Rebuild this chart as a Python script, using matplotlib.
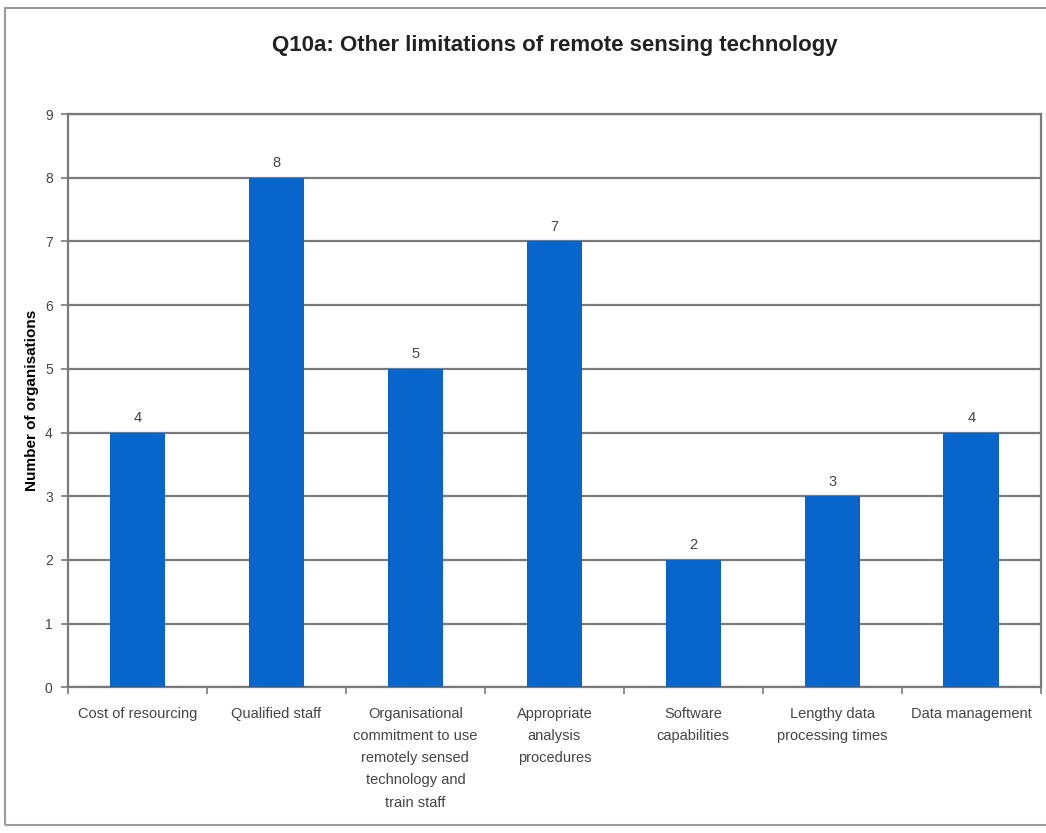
import matplotlib
matplotlib.use('Agg')
import matplotlib.pyplot as plt
from matplotlib.patches import Rectangle

categories = [
    'Cost of resourcing',
    'Qualified staff',
    'Organisational\ncommitment to use\nremotely sensed\ntechnology and\ntrain staff',
    'Appropriate\nanalysis\nprocedures',
    'Software\ncapabilities',
    'Lengthy data\nprocessing times',
    'Data management',
]
counts = [4, 8, 5, 7, 2, 3, 4]
yticks = list(range(0, 10))

plt.rcParams['font.family'] = ['Liberation Sans', 'DejaVu Sans']

fig = plt.figure(figsize=(10.46, 8.33), dpi=100)
ax = fig.add_axes([0.065, 0.175, 0.93, 0.688])

x = list(range(len(categories)))
bars = ax.bar(x, counts, width=0.4, color='#0865CC', zorder=3)
for xi, v in zip(x, counts):
    ax.text(xi, v + 0.12, str(v), ha='center', va='bottom', fontsize=10.5, color='#444444')

ax.set_xlim(-0.5, len(categories) - 0.5)
ax.set_ylim(0, 9)
ax.set_yticks(yticks)
ax.set_yticklabels([str(t) for t in yticks], fontsize=10, color='#444444')
ax.yaxis.grid(True, color='#7a7a7a', linewidth=1.6, zorder=0)
ax.set_axisbelow(True)

# category ticks sit on the boundaries, labels at the centres
ax.set_xticks([i - 0.5 for i in range(len(categories) + 1)])
ax.set_xticklabels([])
ax.set_xticks(x, minor=True)
ax.set_xticklabels(categories, minor=True, fontsize=10.5, color='#444444', linespacing=1.75, va='top')
ax.tick_params(axis='x', which='minor', length=0, pad=14)
ax.tick_params(axis='x', which='major', length=5, color='#7a7a7a', width=1.2)
ax.tick_params(axis='y', length=5, color='#7a7a7a', width=1.2, pad=6)

for s in ax.spines.values():
    s.set_color('#7a7a7a')
    s.set_linewidth(1.6)

ax.set_ylabel('Number of organisations', fontsize=11, fontweight='bold', labelpad=4)
fig.text(0.53, 0.945, 'Q10a: Other limitations of remote sensing technology',
         ha='center', va='center', fontsize=16, fontweight='bold', color='#222222')

# outer chart frame
fig.patches.append(Rectangle((0.005, 0.01), 1.2, 0.98, transform=fig.transFigure,
                             fill=False, edgecolor='#9a9a9a', linewidth=1.5))

fig.savefig('out.png', dpi=100)
